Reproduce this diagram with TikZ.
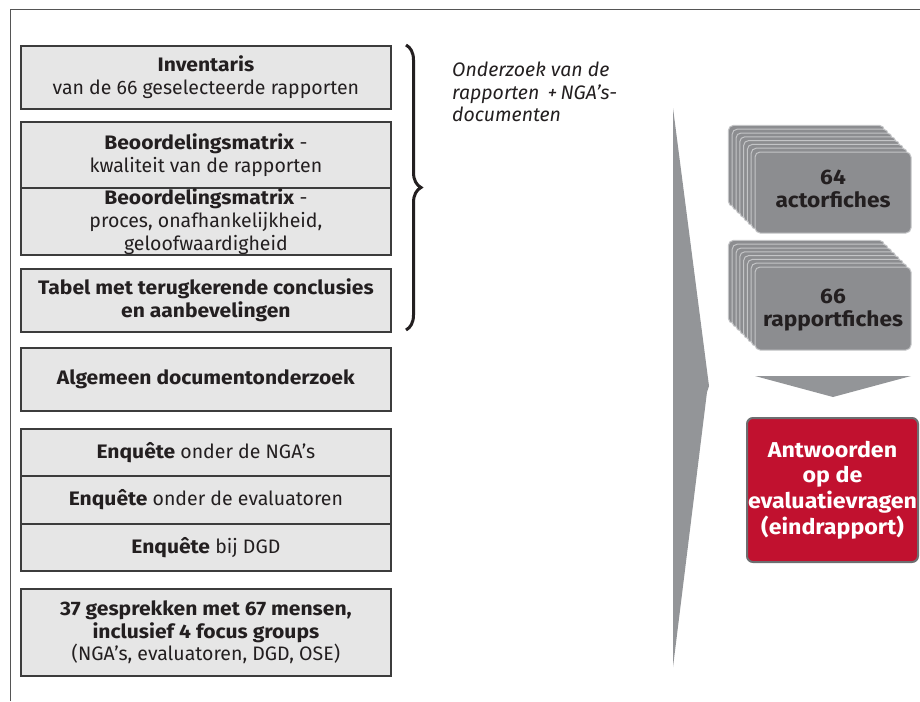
\documentclass[tikz,border=0pt]{standalone}
\usepackage{fontspec}
\setmainfont{Fira Sans}[BoldFeatures={FakeStretch=1.08}]
\usetikzlibrary{decorations.pathreplacing}
\definecolor{boxfill}{HTML}{E6E6E6}
\definecolor{boxline}{HTML}{3C3C3C}
\definecolor{txt}{HTML}{231F20}
\definecolor{arrowgray}{HTML}{939598}
\definecolor{cardgray}{HTML}{8C8D90}
\definecolor{cardedge}{HTML}{C4C5C7}
\definecolor{redbox}{HTML}{C1112F}
\definecolor{framegray}{HTML}{555555}
\definecolor{redline}{HTML}{6D6E70}
\begin{document}
\begin{tikzpicture}[x=1pt,y=-1pt,
  inbox/.style={draw=boxline, line width=1.8pt, fill=boxfill, minimum width=370pt,
    align=center, text=txt, font=\fontsize{19.5}{22.8}\selectfont, inner sep=0pt, anchor=north west},
  card/.style={draw=cardedge, fill=cardgray, line width=1pt, rounded corners=5pt},
  cardtext/.style={text=txt, font=\fontsize{21}{23.5}\selectfont\bfseries, align=center},
  note/.style={text=txt, font=\fontsize{19.5}{22.5}\selectfont\itshape, align=left, anchor=north west, inner sep=0pt}
]
\useasboundingbox (0,0) rectangle (920,701);
% frame
\draw[framegray, line width=1pt] (10,701) -- (10,10) -- (920,10);

% left boxes
\node[inbox, minimum height=63pt] (inv) at (20,45) {\textbf{Inventaris}\\van de 66 geselecteerde rapporten};
\node[inbox, minimum height=66pt] (bm1) at (20,121) {\textbf{Beoordelingsmatrix} -\\kwaliteit van de rapporten};
\node[inbox, minimum height=67pt] (bm2) at (20,187) {\textbf{Beoordelingsmatrix} -\\proces, onafhankelijkheid,\\geloofwaardigheid};
\node[inbox, minimum height=63pt] (tab) at (20,268) {\textbf{Tabel met terugkerende conclusies}\\\textbf{en aanbevelingen}};
\node[inbox, minimum height=63pt] (alg) at (20,347) {\textbf{Algemeen documentonderzoek}};
\node[inbox, minimum height=47pt] (enq1) at (20,428) {\textbf{Enquête} onder de NGA’s};
\node[inbox, minimum height=48pt] (enq2) at (20,475) {\textbf{Enquête} onder de evaluatoren};
\node[inbox, minimum height=47pt] (enq3) at (20,523) {\textbf{Enquête} bij DGD};
\node[inbox, minimum height=87pt] (gesp) at (20,588) {\textbf{37 gesprekken met 67 mensen,}\\\textbf{inclusief 4 focus groups}\\(NGA’s, evaluatoren, DGD, OSE)};

% brace
\coordinate (bt) at (406,45);
\coordinate (bb) at (406,330);
\draw[txt, line width=3pt, decorate, decoration={brace, amplitude=15pt}] (bt) -- (bb);

% note
\node[note] (note) at (452,62) {Onderzoek van de\\rapporten \,+\,NGA’s-\\documenten};

% big wedge arrow
\fill[arrowgray] (673,108) -- (709,386) -- (707,392) -- (673,667) -- cycle;

% card stack 1
\foreach \i in {7,6,...,1} {
  \draw[card] ({755-3.8*\i},{152-3.8*\i}) rectangle ({911-3.8*\i},{233-3.8*\i});
}
\draw[card] (755,152) rectangle (911,233);
\node[cardtext] (act) at (833,189) {64\\actorfiches};

% card stack 2
\foreach \i in {7,6,...,1} {
  \draw[card] ({755-3.8*\i},{267-3.8*\i}) rectangle ({911-3.8*\i},{350-3.8*\i});
}
\draw[card] (755,267) rectangle (911,350);
\node[cardtext] (rap) at (833,310) {66\\rapportfiches};

% down triangle
\fill[arrowgray] (755,376) -- (911,376) -- (833,397) -- cycle;

% red box
\node[draw=redline, line width=2pt, fill=redbox, rounded corners=6pt,
  minimum width=171pt, minimum height=144pt, inner sep=0pt, text=white, align=center,
  font=\fontsize{21.5}{25.7}\selectfont\bfseries] (ant) at (832.5,490)
  {Antwoorden\\op de\\evaluatievragen\\(eindrapport)};
\end{tikzpicture}
\end{document}
